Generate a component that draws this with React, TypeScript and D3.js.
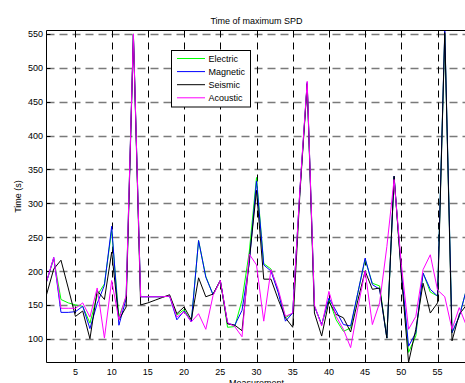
import React, { useEffect, useRef } from "react";
import * as d3 from "d3";

// measurement index 1..59
const measurements = d3.range(1, 60);

const electric = [
  184, 218, 158, 153, 150, 148, 123, 164, 181, 260, 132, 162, 550, 162, 162, 162, 162, 163, 135, 143,
  125, 245, 192, 165, 186, 117, 118, 157, 228, 338, 211, 203, 170, 131, 138, 320, 478, 148, 121, 158,
  128, 111, 116, 168, 217, 182, 178, 101, 338, 200, 80, 104, 197, 169, 163, 550, 109, 133, 173,
];
const magnetic = [
  184, 220, 139, 139, 140, 148, 115, 152, 179, 266, 120, 159, 549, 162, 162, 162, 162, 163, 128, 141,
  125, 245, 191, 165, 186, 123, 120, 142, 211, 333, 209, 200, 168, 126, 138, 320, 478, 148, 121, 160,
  141, 121, 119, 168, 219, 180, 173, 101, 340, 200, 89, 109, 197, 173, 163, 555, 109, 133, 173,
];
const seismic = [
  165, 203, 216, 175, 133, 141, 100, 171, 158, 228, 128, 147, 548, 150, 153, 157, 161, 165, 137, 147,
  128, 190, 162, 166, 186, 122, 120, 112, 216, 319, 188, 188, 158, 131, 117, 315, 476, 138, 104, 155,
  136, 131, 110, 157, 200, 173, 175, 101, 340, 195, 65, 114, 182, 138, 153, 552, 97, 136, 150,
];
const acoustic = [
  184, 220, 145, 145, 145, 153, 132, 175, 101, 186, 128, 164, 550, 162, 162, 162, 162, 163, 132, 140,
  125, 137, 114, 164, 186, 124, 118, 103, 225, 209, 126, 202, 173, 133, 138, 322, 480, 150, 119, 170,
  133, 114, 87, 146, 200, 121, 153, 236, 335, 210, 114, 133, 202, 224, 172, 162, 114, 146, 119,
];

const seriesNames = ["Electric", "Magnetic", "Seismic", "Acoustic"];
const seriesValues = [electric, magnetic, seismic, acoustic];
const seriesColors = ["#00ff00", "#0000ff", "#000000", "#ff00ff"];

const xTicks = [5, 10, 15, 20, 25, 30, 35, 40, 45, 50, 55];
const yTicks = [100, 150, 200, 250, 300, 350, 400, 450, 500, 550];

const W = 465;
const H = 383;
const font = "'Liberation Sans', Arial, sans-serif";

export default function App() {
  const svgRef = useRef<SVGSVGElement>(null);

  useEffect(() => {
    const svg = d3.select(svgRef.current);
    svg.selectAll("*").remove();

    const left = 46.5;
    const right = 466.5;
    const top = 30.5;
    const bottom = 362.5;

    const x = d3.scaleLinear().domain([1, 59]).range([left, right]);
    const y = d3.scaleLinear().domain([65, 555]).range([bottom, top]);

    svg.append("rect").attr("width", W).attr("height", H).attr("fill", "#fff");

    // grid
    const grid = svg.append("g");
    grid
      .selectAll("line.h")
      .data(yTicks)
      .join("line")
      .attr("x1", left)
      .attr("x2", right)
      .attr("y1", (d) => Math.round(y(d)) + 0.5)
      .attr("y2", (d) => Math.round(y(d)) + 0.5)
      .attr("stroke", "#7a7a7a")
      .attr("stroke-width", 1.3)
      .attr("stroke-dasharray", "8,5");
    grid
      .selectAll("line.v")
      .data(xTicks)
      .join("line")
      .attr("x1", (d) => Math.round(x(d)) + 0.5)
      .attr("x2", (d) => Math.round(x(d)) + 0.5)
      .attr("y1", top)
      .attr("y2", bottom)
      .attr("stroke", "#000")
      .attr("stroke-width", 1)
      .attr("stroke-dasharray", "7,5");

    // inward tick marks
    const ticks = svg.append("g").attr("stroke", "#000");
    yTicks.forEach((t) => {
      const yy = Math.round(y(t)) + 0.5;
      ticks.append("line").attr("x1", left).attr("x2", left + 4).attr("y1", yy).attr("y2", yy);
    });
    xTicks.forEach((t) => {
      const xx = Math.round(x(t)) + 0.5;
      ticks.append("line").attr("x1", xx).attr("x2", xx).attr("y1", bottom).attr("y2", bottom - 4);
      ticks.append("line").attr("x1", xx).attr("x2", xx).attr("y1", top).attr("y2", top + 4);
    });

    // series
    const line = d3
      .line<number>()
      .x((_, i) => x(measurements[i]))
      .y((d) => y(d));

    seriesValues.forEach((vals, i) => {
      svg
        .append("path")
        .datum(vals)
        .attr("d", line)
        .attr("fill", "none")
        .attr("stroke", seriesColors[i])
        .attr("stroke-width", 1)
        .attr("stroke-linejoin", "miter");
    });

    // axes box
    svg
      .append("path")
      .attr("d", `M${right},${top}H${left}V${bottom}H${right}`)
      .attr("fill", "none")
      .attr("stroke", "#000")
      .attr("stroke-width", 1);

    // tick labels
    svg
      .append("g")
      .selectAll("text")
      .data(yTicks)
      .join("text")
      .attr("x", 43)
      .attr("y", (d) => y(d) + 3.5)
      .attr("text-anchor", "end")
      .attr("font-size", 9)
      .attr("font-family", font)
      .text((d) => d);

    svg
      .append("g")
      .selectAll("text")
      .data(xTicks)
      .join("text")
      .attr("x", (d) => x(d))
      .attr("y", 375)
      .attr("text-anchor", "middle")
      .attr("font-size", 9)
      .attr("font-family", font)
      .text((d) => d);

    // titles
    svg
      .append("text")
      .attr("x", (left + right) / 2)
      .attr("y", 24)
      .attr("text-anchor", "middle")
      .attr("font-size", 9)
      .attr("font-family", font)
      .text("Time of maximum SPD");

    svg
      .append("text")
      .attr("x", (left + right) / 2)
      .attr("y", 386)
      .attr("text-anchor", "middle")
      .attr("font-size", 9)
      .attr("font-family", font)
      .text("Measurement");

    svg
      .append("text")
      .attr("transform", `translate(21,${(top + bottom) / 2}) rotate(-90)`)
      .attr("text-anchor", "middle")
      .attr("font-size", 9)
      .attr("font-family", font)
      .text("Time (s)");

    // legend
    const lg = svg.append("g");
    lg.append("rect")
      .attr("x", 171.5)
      .attr("y", 50.5)
      .attr("width", 79)
      .attr("height", 56.5)
      .attr("fill", "#fff")
      .attr("stroke", "#000");
    seriesNames.forEach((name, i) => {
      const yy = 58.5 + i * 13.1;
      lg.append("line")
        .attr("x1", 177)
        .attr("x2", 205)
        .attr("y1", yy)
        .attr("y2", yy)
        .attr("stroke", seriesColors[i])
        .attr("stroke-width", 1);
      lg.append("text")
        .attr("x", 208.5)
        .attr("y", yy + 3.3)
        .attr("font-size", 9)
        .attr("font-family", font)
        .text(name);
    });
  }, []);

  return (
    <svg
      ref={svgRef}
      width={W}
      height={H}
      style={{ position: "absolute", left: 0, top: 0, display: "block" }}
    />
  );
}
